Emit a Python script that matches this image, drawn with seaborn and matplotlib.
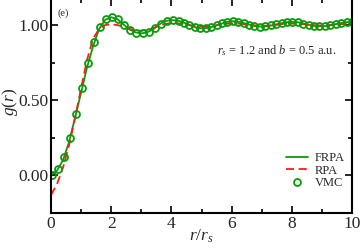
import numpy as np
import pandas as pd
import matplotlib
matplotlib.use("Agg")
import matplotlib.pyplot as plt
from matplotlib.ticker import MultipleLocator, FormatStrFormatter
import seaborn as sns

# ---- data ----
frpa_r = [0.0, 0.2, 0.4, 0.6, 0.8, 1.0, 1.2, 1.4, 1.6, 1.8, 2.0, 2.2, 2.4, 2.6, 2.8, 3.0,
          3.2, 3.4, 3.6, 3.8, 4.0, 4.2, 4.4, 4.6, 4.8, 5.0, 5.2, 5.4, 5.6, 5.8, 6.0,
          6.2, 6.4, 6.6, 6.8, 7.0, 7.2, 7.4, 7.6, 7.8, 8.0, 8.2, 8.4, 8.6, 8.8, 9.0,
          9.2, 9.4, 9.6, 9.8, 10.0]
frpa_g = [0.0, 0.03, 0.10, 0.22, 0.385, 0.55, 0.72, 0.86, 0.975, 1.035, 1.052, 1.04, 1.005,
          0.972, 0.952, 0.944, 0.952, 0.972, 1.005, 1.027, 1.033, 1.03, 1.018, 1.0, 0.984,
          0.978, 0.981, 0.99, 1.005, 1.018, 1.026, 1.023, 1.013, 1.003, 0.993, 0.99, 0.993,
          1.0, 1.01, 1.018, 1.021, 1.019, 1.01, 1.0, 0.994, 0.992, 0.996, 1.004, 1.012,
          1.019, 1.022]

rpa_r = frpa_r
rpa_g = [-0.133, -0.06, 0.05, 0.20, 0.38, 0.58, 0.77, 0.91, 0.975, 1.0, 1.005, 1.0, 0.99,
         0.975, 0.965, 0.962, 0.968, 0.98, 0.995, 1.008, 1.013, 1.012, 1.006, 1.0, 0.994,
         0.991, 0.992, 0.996, 1.002, 1.008, 1.011, 1.01, 1.006, 1.001, 0.997, 0.995, 0.996,
         0.999, 1.004, 1.008, 1.01, 1.009, 1.005, 1.001, 0.998, 0.997, 0.998, 1.001, 1.005,
         1.008, 1.01]

vmc_r = [0.04, 0.24, 0.44, 0.64, 0.84, 1.04, 1.24, 1.44, 1.64, 1.84, 2.04, 2.24, 2.44, 2.64,
         2.84, 3.04, 3.24, 3.44, 3.64, 3.84, 4.04, 4.24,
         4.42, 4.60, 4.78, 4.96, 5.14, 5.32, 5.50, 5.68, 5.86, 6.04, 6.22, 6.40, 6.58, 6.76,
         6.94, 7.12, 7.30, 7.48, 7.66, 7.84, 8.02, 8.20, 8.38, 8.56, 8.74, 8.92, 9.10, 9.28,
         9.46, 9.64, 9.82, 10.00]
vmc_g = [0.00, 0.038, 0.12, 0.247, 0.41, 0.58, 0.75, 0.885, 0.99, 1.04, 1.053, 1.038, 1.0,
         0.97, 0.95, 0.944, 0.955, 0.978, 1.01, 1.028, 1.033, 1.028,
         1.017, 1.002, 0.986, 0.978, 0.98, 0.988, 0.998, 1.011, 1.022, 1.027, 1.023, 1.014,
         1.003, 0.993, 0.99, 0.992, 0.998, 1.008, 1.016, 1.021, 1.022, 1.018, 1.01, 1.001,
         0.995, 0.992, 0.994, 1.0, 1.007, 1.014, 1.019, 1.022]

x_ticks = [0, 2, 4, 6, 8, 10]
y_ticks = [0.0, 0.5, 1.0]

# ---- style ----
sns.set_theme(style="ticks")
plt.rcParams['font.family'] = ['Liberation Serif', 'DejaVu Serif']
plt.rcParams['mathtext.fontset'] = 'custom'
plt.rcParams['mathtext.rm'] = 'Liberation Serif'
plt.rcParams['mathtext.it'] = 'Liberation Serif:italic'

green = '#0a9a0a'
red = '#ff1a1a'

fig = plt.figure(figsize=(3.62, 2.5), dpi=100)
ax = fig.add_axes([51/362, 1-213/250, (352-51)/362, 214.5/250])

df_f = pd.DataFrame({'r': frpa_r, 'g': frpa_g})
df_r = pd.DataFrame({'r': rpa_r, 'g': rpa_g})
df_v = pd.DataFrame({'r': vmc_r, 'g': vmc_g})

sns.lineplot(data=df_f, x='r', y='g', ax=ax, color=green, lw=1.3, label='FRPA', sort=False)
sns.lineplot(data=df_r, x='r', y='g', ax=ax, color=red, lw=1.3, label='RPA', sort=False,
             dashes=False, linestyle=(0, (4.5, 2.5)))
sns.lineplot(data=df_v, x='r', y='g', ax=ax, color=green, label='VMC', sort=False,
             linestyle='none', marker='o', markersize=5, markerfacecolor='none',
             markeredgecolor=green, markeredgewidth=1.3)

ax.set_xlim(0, 10)
ax.set_ylim(-0.253, 1.177)
ax.set_xticks(x_ticks)
ax.set_yticks(y_ticks)
ax.xaxis.set_minor_locator(MultipleLocator(1))
ax.yaxis.set_minor_locator(MultipleLocator(0.25))
ax.yaxis.set_major_formatter(FormatStrFormatter('%.2f'))
ax.tick_params(which='both', direction='in', top=True, right=True, width=1.2, color='black')
ax.tick_params(which='major', length=5, labelsize=12.5, pad=2)
ax.tick_params(which='minor', length=3)
for s in ax.spines.values():
    s.set_linewidth(1.5)
    s.set_color('black')

ax.set_xlabel(r'$r/r_s$', fontsize=12.5)
ax.set_ylabel(r'$g(r)$', fontsize=12.5)
ax.xaxis.set_label_coords(0.5, -0.068)
ax.yaxis.set_label_coords(-0.137, 0.52)
ax.xaxis.label.set_va('top')
ax.yaxis.label.set_va('center')

ax.text(0.948, 0.74, r'$r_s$ = 1.2 and $b$ = 0.5 a.u.', transform=ax.transAxes,
        ha='right', va='baseline', fontsize=9)
ax.text(0.02, 0.955, '(e)', transform=ax.transAxes, ha='left', va='top', fontsize=7.5)

leg = ax.legend(loc='lower right', bbox_to_anchor=(1.0, 0.075), frameon=False, fontsize=9,
                handlelength=1.8, labelspacing=0.05, handletextpad=0.5, borderaxespad=0.2)

fig.savefig('out.png', dpi=100)
